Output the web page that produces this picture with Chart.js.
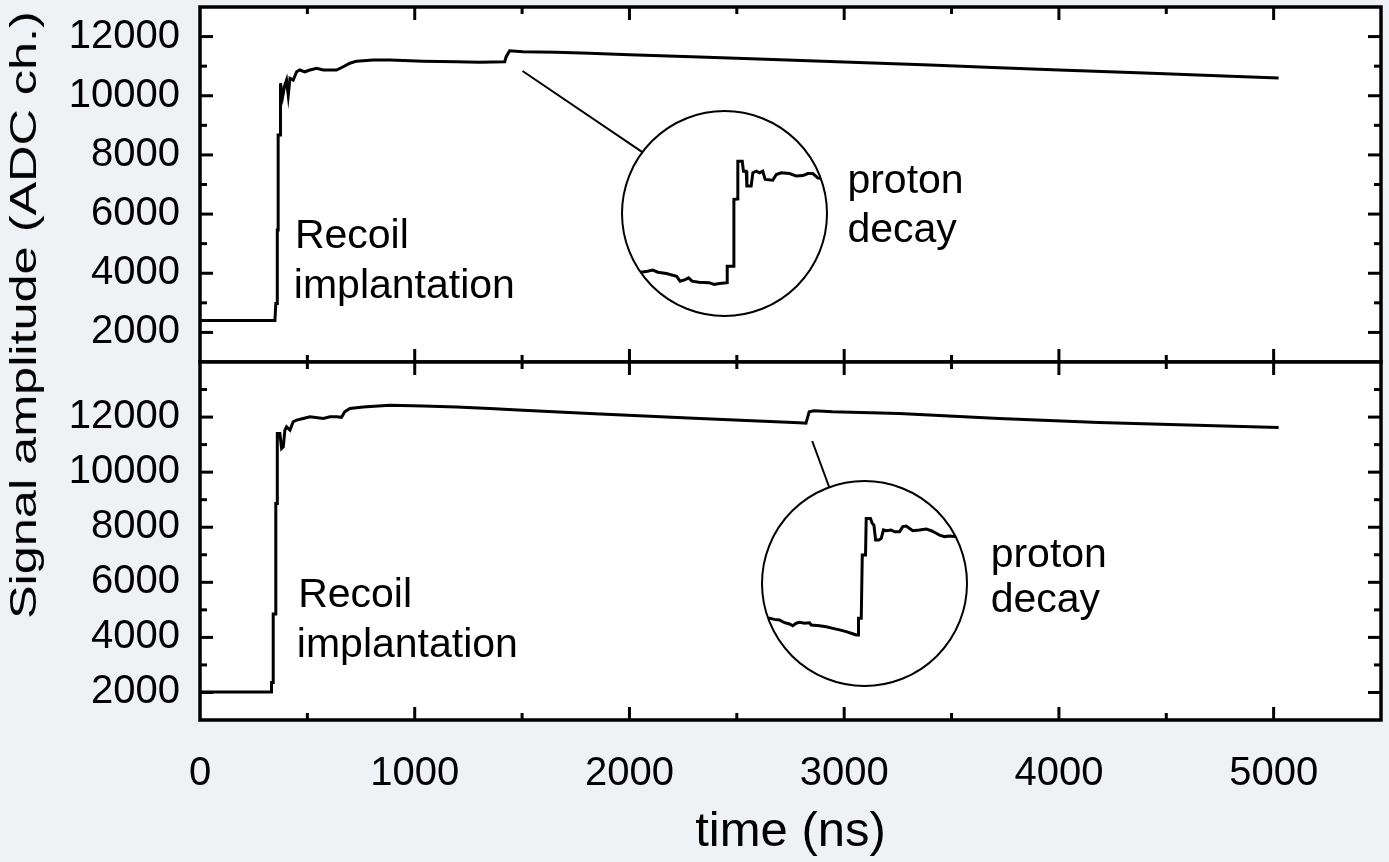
<!DOCTYPE html>
<html><head><meta charset="utf-8">
<script src="https://cdn.jsdelivr.net/npm/chart.js@4.4.0/dist/chart.umd.min.js"></script>
<style>
html,body{margin:0;padding:0;background:#eef2f5;}
#wrap{position:relative;width:1389px;height:862px;overflow:hidden;font-family:"Liberation Sans",Arial,sans-serif;}
canvas{position:absolute;}
#ytitle{position:absolute;left:24px;top:315px;transform:translate(-50%,-50%) rotate(-90deg) scaleX(1.4);white-space:nowrap;font-size:36px;line-height:1;color:#000;}
</style></head>
<body><div id="wrap">
<canvas id="cTop" width="1389" height="364" style="left:0;top:0"></canvas>
<canvas id="cBot" width="1389" height="502" style="left:0;top:360px"></canvas>
<canvas id="iTop" width="209" height="209" style="left:620px;top:109px"></canvas>
<canvas id="iBot" width="209" height="209" style="left:760px;top:479px"></canvas>
<div id="ytitle">Signal amplitude (ADC ch.)</div>
</div>
<script>
// ---------- data ----------
const topTime   = [0,340,349,353,360,360,364,364,375,375,385,395,403,411,419,434,450,465,488,512,543,574,636,667,698,729,806,884,1039,1194,1302,1419,1426,1442,1504,1659,1814,2000,2326,2600,3000,3400,3721,4000,4400,4800,5023];
const topSignal = [2400,2400,2400,2980,2980,5460,5460,8670,8670,10420,9970,10360,10530,10020,10590,10530,10810,10870,10810,10870,10930,10870,10870,10980,11100,11170,11210,11210,11170,11150,11130,11150,11320,11520,11490,11470,11440,11390,11310,11240,11140,11040,10950,10870,10770,10660,10600];

const botTime   = [0,333,333,341,341,353,353,360,360,372,380,388,395,403,419,434,450,481,512,574,605,636,659,674,698,760,884,1039,1194,1349,1504,1814,2326,2791,2822,2832,2837,2860,2946,3256,3721,4186,4600,5023];
const botSignal = [2020,2020,2360,2360,4850,4850,8860,8860,11400,11400,10860,10920,11520,11645,11525,11830,11890,11950,12010,11950,12010,12010,11990,12190,12310,12370,12430,12400,12370,12310,12250,12130,11950,11790,11780,12050,12190,12230,12190,12130,11950,11800,11710,11620];

// inset (zoom of proton-decay step), top event
const insTopTime   = [1386,1395,1398,1401,1406,1412,1414,1417,1419,1421,1425,1431,1434,1437,1441.6,1441.6,1445,1445.5,1447.8,1447.8,1450.4,1451.1,1452.7,1453.1,1455.6,1456.6,1458.6,1460.5,1462.4,1463.8,1468.3,1470.3,1473.2,1478.1,1482,1485.9,1488.8,1491.7,1494.6,1499.6];
const insTopSignal = [11116,11125,11129,11121,11116,11105,11086,11092,11099,11086,11082,11080,11073,11077,11080,11144,11144,11405,11407,11554,11554,11515,11515,11457,11457,11509,11515,11509,11515,11483,11480,11502,11509,11506,11496,11498,11506,11506,11489,11483];
// inset, bottom event
const insBotTime   = [2760.5,2764.4,2767.3,2770.2,2773.2,2776.1,2778,2780,2782,2784.9,2787.8,2788.8,2793.7,2797.6,2801.5,2805.4,2809.3,2812.2,2815.2,2816.5,2816.5,2818.1,2818.7,2820.6,2821,2823.5,2824.5,2825.5,2826.5,2828.4,2829.8,2831.1,2832.7,2835.6,2837.6,2840.5,2842.4,2844.4,2846.4,2848.3,2852.2,2856.1,2859.1,2862,2863.9,2866.9,2869.8,2872.7,2877.6];
const insBotSignal = [11864,11864,11860,11858,11847,11842,11835,11845,11849,11845,11847,11838,11835,11831,11825,11819,11812,11806,11799,11799,11864,11864,12111,12111,12254,12254,12235,12228,12170,12170,12176,12209,12206,12209,12202,12202,12222,12224,12215,12206,12209,12213,12206,12196,12189,12183,12185,12183,12180];

// ticks
const xTickVals  = [0,1000,2000,3000,4000,5000];
const xMinorVals = [500,1500,2500,3500,4500];
const yTopTicks  = [2000,4000,6000,8000,10000,12000];
const yTopMinor  = [3000,5000,7000,9000,11000];
const yBotTicks  = [2000,4000,6000,8000,10000,12000];
const yBotMinor  = [3000,5000,7000,9000,11000,13000];

const FONT = '"Liberation Sans", Arial, sans-serif';
Chart.defaults.font.family = FONT;
Chart.defaults.color = '#000';

const toXY = (t, v) => t.map((x, i) => ({x, y: v[i]}));

const framePlugin = {
  id: 'frame',
  beforeDraw(chart) {
    const {ctx, chartArea: a} = chart;
    ctx.save(); ctx.fillStyle = '#fff';
    ctx.fillRect(a.left, a.top, a.right - a.left, a.bottom - a.top);
    ctx.restore();
  },
  afterDraw(chart, args, o) {
    const {ctx, chartArea: a, scales} = chart;
    const xs = scales.x, ys = scales.y;
    ctx.save();
    ctx.strokeStyle = '#000';
    ctx.lineCap = 'butt';
    const tick = (x1, y1, x2, y2, w) => { ctx.lineWidth = w; ctx.beginPath(); ctx.moveTo(x1, y1); ctx.lineTo(x2, y2); ctx.stroke(); };
    o.xMajor.forEach(v => { const p = xs.getPixelForValue(v); if (p > a.left + 2 && p < a.right - 2) { tick(p, a.top, p, a.top + 13, 3); tick(p, a.bottom, p, a.bottom - 13, 3); } });
    o.xMinor.forEach(v => { const p = xs.getPixelForValue(v); tick(p, a.top, p, a.top + 7, 3); tick(p, a.bottom, p, a.bottom - 7, 3); });
    o.yMajor.forEach(v => { const p = ys.getPixelForValue(v); tick(a.left, p, a.left + 13, p, 3); tick(a.right, p, a.right - 13, p, 3); });
    o.yMinor.forEach(v => { const p = ys.getPixelForValue(v); tick(a.left, p, a.left + 7, p, 3); tick(a.right, p, a.right - 7, p, 3); });
    ctx.lineWidth = 3.5;
    ctx.strokeRect(a.left, a.top, a.right - a.left, a.bottom - a.top);
    // connector line to inset
    const c = o.connector;
    ctx.lineWidth = 2;
    ctx.beginPath();
    ctx.moveTo(xs.getPixelForValue(c[0]), ys.getPixelForValue(c[1]));
    ctx.lineTo(xs.getPixelForValue(c[2]), ys.getPixelForValue(c[3]));
    ctx.stroke();
    // annotation texts
    ctx.fillStyle = '#000';
    ctx.font = '41px ' + FONT;
    ctx.textAlign = 'left';
    ctx.textBaseline = 'alphabetic';
    o.labels.forEach(l => ctx.fillText(l.text, xs.getPixelForValue(l.x), ys.getPixelForValue(l.y)));
    ctx.restore();
  }
};

const yAxis = (min, max, vals) => ({
  type: 'linear', position: 'left', min, max,
  afterBuildTicks: s => { s.ticks = vals.map(v => ({value: v})); },
  afterFit: s => { s.width = 200; s.paddingTop = 0; s.paddingBottom = 0; },
  grid: {display: false, drawTicks: false},
  border: {display: false},
  ticks: {padding: 20, font: {size: 40}, color: '#000', callback: v => String(v)}
});

const lineDs = (t, v) => ({data: toXY(t, v), borderColor: '#000', borderWidth: 3, pointRadius: 0, tension: 0, fill: false, borderJoinStyle: 'miter'});

new Chart(document.getElementById('cTop'), {
  type: 'line',
  data: {datasets: [lineDs(topTime, topSignal)]},
  options: {
    responsive: false, animation: false, events: [],
    layout: {autoPadding: false, padding: {left: 0, top: 7, right: 8, bottom: 2}},
    plugins: {legend: {display: false}, tooltip: {enabled: false},
      frame: {xMajor: xTickVals, xMinor: xMinorVals, yMajor: yTopTicks, yMinor: yTopMinor,
        connector: [1502, 10836, 2060, 8097],
        labels: [{text: 'Recoil', x: 442, y: 4842}, {text: 'implantation', x: 437, y: 3151},
                 {text: 'proton', x: 3015, y: 6701}, {text: 'decay', x: 3015, y: 5065}]}},
    scales: {
      x: {type: 'linear', display: false, min: 0, max: 5500},
      y: yAxis(1000, 13000, yTopTicks)
    }
  },
  plugins: [framePlugin]
});

new Chart(document.getElementById('cBot'), {
  type: 'line',
  data: {datasets: [lineDs(botTime, botSignal)]},
  options: {
    responsive: false, animation: false, events: [],
    layout: {autoPadding: false, padding: {left: 0, top: 2, right: 8, bottom: 0}},
    plugins: {legend: {display: false}, tooltip: {enabled: false},
      frame: {xMajor: xTickVals, xMinor: xMinorVals, yMajor: yBotTicks, yMinor: yBotMinor,
        connector: [2851, 11132, 2930, 9461],
        labels: [{text: 'Recoil', x: 457, y: 5115}, {text: 'implantation', x: 451, y: 3299},
                 {text: 'proton', x: 3682, y: 6567}, {text: 'decay', x: 3682, y: 4934}]}},
    scales: {
      x: {type: 'linear', position: 'bottom', min: 0, max: 5500,
        afterBuildTicks: s => { s.ticks = xTickVals.map(v => ({value: v})); },
        afterFit: s => { s.height = 142; s.paddingLeft = 0; s.paddingRight = 0; },
        grid: {display: false, drawTicks: false},
        border: {display: false},
        ticks: {padding: 30, font: {size: 40}, color: '#000', maxRotation: 0, callback: v => String(v)},
        title: {display: true, text: 'time (ns)', font: {size: 49}, color: '#000', padding: {top: 0, bottom: 0}}
      },
      y: yAxis(1000, 14000, yBotTicks)
    }
  },
  plugins: [framePlugin]
});

const circlePlugin = {
  id: 'circle',
  beforeDatasetsDraw(chart) {
    const {ctx, chartArea: a} = chart;
    const cx = (a.left + a.right) / 2, cy = (a.top + a.bottom) / 2, r = (a.right - a.left) / 2;
    ctx.save();
    ctx.beginPath(); ctx.arc(cx, cy, r, 0, 2 * Math.PI);
    ctx.fillStyle = '#fff'; ctx.fill();
    ctx.clip();
  },
  afterDatasetsDraw(chart) {
    const {ctx, chartArea: a} = chart;
    ctx.restore();
    const cx = (a.left + a.right) / 2, cy = (a.top + a.bottom) / 2, r = (a.right - a.left) / 2;
    ctx.save();
    ctx.strokeStyle = '#000'; ctx.lineWidth = 2;
    ctx.beginPath(); ctx.arc(cx, cy, r, 0, 2 * Math.PI); ctx.stroke();
    ctx.restore();
  }
};

const insetChart = (id, t, v, xmin, xmax, ymin, ymax) => new Chart(document.getElementById(id), {
  type: 'line',
  data: {datasets: [lineDs(t, v)]},
  options: {
    responsive: false, animation: false, events: [],
    layout: {autoPadding: false, padding: 2},
    plugins: {legend: {display: false}, tooltip: {enabled: false}},
    scales: {x: {type: 'linear', display: false, min: xmin, max: xmax}, y: {display: false, min: ymin, max: ymax}}
  },
  plugins: [circlePlugin]
});
insetChart('iTop', insTopTime, insTopSignal, 1380, 1500, 10950, 11750);
insetChart('iBot', insBotTime, insBotSignal, 2760, 2880, 11600, 12400);
</script>
</body></html>
